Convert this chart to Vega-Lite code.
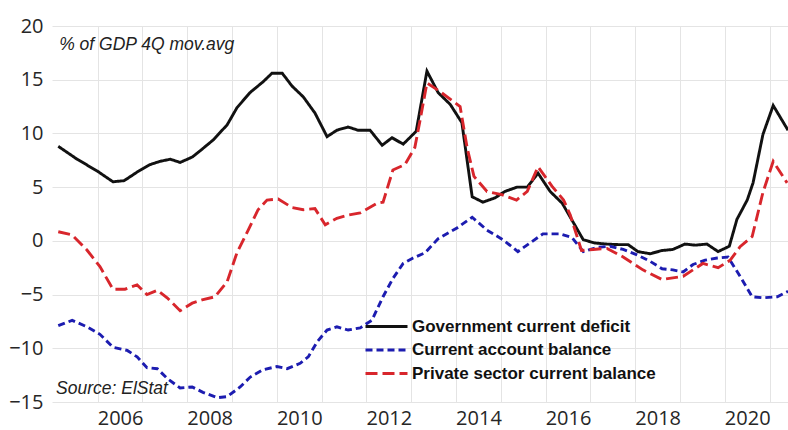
{
  "$schema": "https://vega.github.io/schema/vega-lite/v6.json",
  "width": 736,
  "height": 376,
  "autosize": "none",
  "padding": {"left": 52, "top": 26, "right": 0, "bottom": 28},
  "background": "white",
  "config": {"view": {"stroke": null}, "font": "Open Sans"},
  "datasets": {
    "series": [
      {"series": "Government current deficit", "year": 2004.62, "value": 8.8},
      {"series": "Government current deficit", "year": 2005.04, "value": 7.6},
      {"series": "Government current deficit", "year": 2005.49, "value": 6.5},
      {"series": "Government current deficit", "year": 2005.84, "value": 5.5},
      {"series": "Government current deficit", "year": 2006.09, "value": 5.6},
      {"series": "Government current deficit", "year": 2006.38, "value": 6.4},
      {"series": "Government current deficit", "year": 2006.67, "value": 7.1},
      {"series": "Government current deficit", "year": 2006.89, "value": 7.4},
      {"series": "Government current deficit", "year": 2007.12, "value": 7.6},
      {"series": "Government current deficit", "year": 2007.34, "value": 7.3},
      {"series": "Government current deficit", "year": 2007.61, "value": 7.8},
      {"series": "Government current deficit", "year": 2007.85, "value": 8.6},
      {"series": "Government current deficit", "year": 2008.08, "value": 9.4},
      {"series": "Government current deficit", "year": 2008.39, "value": 10.8},
      {"series": "Government current deficit", "year": 2008.61, "value": 12.4},
      {"series": "Government current deficit", "year": 2008.9, "value": 13.8},
      {"series": "Government current deficit", "year": 2009.19, "value": 14.8},
      {"series": "Government current deficit", "year": 2009.39, "value": 15.6},
      {"series": "Government current deficit", "year": 2009.62, "value": 15.6},
      {"series": "Government current deficit", "year": 2009.84, "value": 14.4},
      {"series": "Government current deficit", "year": 2010.09, "value": 13.4},
      {"series": "Government current deficit", "year": 2010.35, "value": 11.9},
      {"series": "Government current deficit", "year": 2010.62, "value": 9.7},
      {"series": "Government current deficit", "year": 2010.84, "value": 10.3},
      {"series": "Government current deficit", "year": 2011.09, "value": 10.6},
      {"series": "Government current deficit", "year": 2011.31, "value": 10.3},
      {"series": "Government current deficit", "year": 2011.58, "value": 10.3},
      {"series": "Government current deficit", "year": 2011.85, "value": 8.9},
      {"series": "Government current deficit", "year": 2012.07, "value": 9.6},
      {"series": "Government current deficit", "year": 2012.32, "value": 9.0},
      {"series": "Government current deficit", "year": 2012.61, "value": 10.2},
      {"series": "Government current deficit", "year": 2012.85, "value": 15.8},
      {"series": "Government current deficit", "year": 2013.1, "value": 13.8},
      {"series": "Government current deficit", "year": 2013.37, "value": 12.7},
      {"series": "Government current deficit", "year": 2013.63, "value": 11.0},
      {"series": "Government current deficit", "year": 2013.86, "value": 4.1},
      {"series": "Government current deficit", "year": 2014.1, "value": 3.6},
      {"series": "Government current deficit", "year": 2014.37, "value": 4.0},
      {"series": "Government current deficit", "year": 2014.59, "value": 4.6},
      {"series": "Government current deficit", "year": 2014.86, "value": 5.0},
      {"series": "Government current deficit", "year": 2015.09, "value": 5.0},
      {"series": "Government current deficit", "year": 2015.33, "value": 6.3},
      {"series": "Government current deficit", "year": 2015.6, "value": 4.6},
      {"series": "Government current deficit", "year": 2015.87, "value": 3.5},
      {"series": "Government current deficit", "year": 2016.05, "value": 2.2},
      {"series": "Government current deficit", "year": 2016.34, "value": 0.1},
      {"series": "Government current deficit", "year": 2016.6, "value": -0.2},
      {"series": "Government current deficit", "year": 2016.87, "value": -0.3},
      {"series": "Government current deficit", "year": 2017.12, "value": -0.35},
      {"series": "Government current deficit", "year": 2017.34, "value": -0.35},
      {"series": "Government current deficit", "year": 2017.56, "value": -1.0},
      {"series": "Government current deficit", "year": 2017.83, "value": -1.2},
      {"series": "Government current deficit", "year": 2018.1, "value": -0.9},
      {"series": "Government current deficit", "year": 2018.34, "value": -0.8},
      {"series": "Government current deficit", "year": 2018.61, "value": -0.3},
      {"series": "Government current deficit", "year": 2018.84, "value": -0.4},
      {"series": "Government current deficit", "year": 2019.1, "value": -0.3},
      {"series": "Government current deficit", "year": 2019.35, "value": -1.0},
      {"series": "Government current deficit", "year": 2019.6, "value": -0.5},
      {"series": "Government current deficit", "year": 2019.77, "value": 2.0},
      {"series": "Government current deficit", "year": 2020.0, "value": 3.8},
      {"series": "Government current deficit", "year": 2020.13, "value": 5.4},
      {"series": "Government current deficit", "year": 2020.35, "value": 9.9},
      {"series": "Government current deficit", "year": 2020.58, "value": 12.6},
      {"series": "Government current deficit", "year": 2020.91, "value": 10.3},

      {"series": "Current account balance", "year": 2004.62, "value": -7.9},
      {"series": "Current account balance", "year": 2004.93, "value": -7.4},
      {"series": "Current account balance", "year": 2005.26, "value": -8.0},
      {"series": "Current account balance", "year": 2005.55, "value": -8.7},
      {"series": "Current account balance", "year": 2005.84, "value": -9.9},
      {"series": "Current account balance", "year": 2006.16, "value": -10.2},
      {"series": "Current account balance", "year": 2006.38, "value": -10.8},
      {"series": "Current account balance", "year": 2006.6, "value": -11.8},
      {"series": "Current account balance", "year": 2006.83, "value": -11.9},
      {"series": "Current account balance", "year": 2007.05, "value": -12.8},
      {"series": "Current account balance", "year": 2007.34, "value": -13.7},
      {"series": "Current account balance", "year": 2007.61, "value": -13.6},
      {"series": "Current account balance", "year": 2007.85, "value": -14.1},
      {"series": "Current account balance", "year": 2008.17, "value": -14.6},
      {"series": "Current account balance", "year": 2008.39, "value": -14.5},
      {"series": "Current account balance", "year": 2008.68, "value": -13.6},
      {"series": "Current account balance", "year": 2008.9, "value": -12.7},
      {"series": "Current account balance", "year": 2009.19, "value": -12.0},
      {"series": "Current account balance", "year": 2009.5, "value": -11.7},
      {"series": "Current account balance", "year": 2009.73, "value": -11.9},
      {"series": "Current account balance", "year": 2010.02, "value": -11.4},
      {"series": "Current account balance", "year": 2010.2, "value": -10.8},
      {"series": "Current account balance", "year": 2010.4, "value": -9.4},
      {"series": "Current account balance", "year": 2010.62, "value": -8.3},
      {"series": "Current account balance", "year": 2010.84, "value": -8.0},
      {"series": "Current account balance", "year": 2011.09, "value": -8.3},
      {"series": "Current account balance", "year": 2011.36, "value": -8.1},
      {"series": "Current account balance", "year": 2011.62, "value": -7.4},
      {"series": "Current account balance", "year": 2011.87, "value": -5.2},
      {"series": "Current account balance", "year": 2012.09, "value": -3.5},
      {"series": "Current account balance", "year": 2012.32, "value": -2.1},
      {"series": "Current account balance", "year": 2012.54, "value": -1.6},
      {"series": "Current account balance", "year": 2012.81, "value": -1.1},
      {"series": "Current account balance", "year": 2013.1, "value": 0.2},
      {"series": "Current account balance", "year": 2013.52, "value": 1.2},
      {"series": "Current account balance", "year": 2013.86, "value": 2.2},
      {"series": "Current account balance", "year": 2014.19, "value": 1.0},
      {"series": "Current account balance", "year": 2014.55, "value": 0.1},
      {"series": "Current account balance", "year": 2014.88, "value": -1.0},
      {"series": "Current account balance", "year": 2015.15, "value": -0.2},
      {"series": "Current account balance", "year": 2015.44, "value": 0.65},
      {"series": "Current account balance", "year": 2015.82, "value": 0.65},
      {"series": "Current account balance", "year": 2016.09, "value": 0.3},
      {"series": "Current account balance", "year": 2016.34, "value": -1.0},
      {"series": "Current account balance", "year": 2016.65, "value": -0.6},
      {"series": "Current account balance", "year": 2016.94, "value": -0.5},
      {"series": "Current account balance", "year": 2017.23, "value": -0.8},
      {"series": "Current account balance", "year": 2017.54, "value": -1.3},
      {"series": "Current account balance", "year": 2017.83, "value": -1.9},
      {"series": "Current account balance", "year": 2018.1, "value": -2.6},
      {"series": "Current account balance", "year": 2018.34, "value": -2.7},
      {"series": "Current account balance", "year": 2018.57, "value": -2.9},
      {"series": "Current account balance", "year": 2018.79, "value": -2.2},
      {"series": "Current account balance", "year": 2019.06, "value": -1.8},
      {"series": "Current account balance", "year": 2019.33, "value": -1.6},
      {"series": "Current account balance", "year": 2019.57, "value": -1.5},
      {"series": "Current account balance", "year": 2019.84, "value": -3.3},
      {"series": "Current account balance", "year": 2020.11, "value": -5.2},
      {"series": "Current account balance", "year": 2020.35, "value": -5.3},
      {"series": "Current account balance", "year": 2020.67, "value": -5.2},
      {"series": "Current account balance", "year": 2020.91, "value": -4.7},

      {"series": "Private sector current balance", "year": 2004.62, "value": 0.85},
      {"series": "Private sector current balance", "year": 2004.93, "value": 0.55},
      {"series": "Private sector current balance", "year": 2005.26, "value": -0.85},
      {"series": "Private sector current balance", "year": 2005.55, "value": -2.4},
      {"series": "Private sector current balance", "year": 2005.84, "value": -4.5},
      {"series": "Private sector current balance", "year": 2006.11, "value": -4.5},
      {"series": "Private sector current balance", "year": 2006.38, "value": -4.1},
      {"series": "Private sector current balance", "year": 2006.6, "value": -5.0},
      {"series": "Private sector current balance", "year": 2006.83, "value": -4.6},
      {"series": "Private sector current balance", "year": 2007.05, "value": -5.3},
      {"series": "Private sector current balance", "year": 2007.34, "value": -6.5},
      {"series": "Private sector current balance", "year": 2007.61, "value": -5.8},
      {"series": "Private sector current balance", "year": 2007.83, "value": -5.5},
      {"series": "Private sector current balance", "year": 2008.12, "value": -5.2},
      {"series": "Private sector current balance", "year": 2008.39, "value": -3.8},
      {"series": "Private sector current balance", "year": 2008.61, "value": -1.1},
      {"series": "Private sector current balance", "year": 2008.86, "value": 1.0},
      {"series": "Private sector current balance", "year": 2009.08, "value": 2.9},
      {"series": "Private sector current balance", "year": 2009.28, "value": 3.8},
      {"series": "Private sector current balance", "year": 2009.53, "value": 3.9},
      {"series": "Private sector current balance", "year": 2009.84, "value": 3.1},
      {"series": "Private sector current balance", "year": 2010.09, "value": 2.9},
      {"series": "Private sector current balance", "year": 2010.35, "value": 3.0},
      {"series": "Private sector current balance", "year": 2010.58, "value": 1.5},
      {"series": "Private sector current balance", "year": 2010.84, "value": 2.1},
      {"series": "Private sector current balance", "year": 2011.09, "value": 2.4},
      {"series": "Private sector current balance", "year": 2011.36, "value": 2.6},
      {"series": "Private sector current balance", "year": 2011.74, "value": 3.5},
      {"series": "Private sector current balance", "year": 2011.87, "value": 3.6},
      {"series": "Private sector current balance", "year": 2012.09, "value": 6.6},
      {"series": "Private sector current balance", "year": 2012.36, "value": 7.1},
      {"series": "Private sector current balance", "year": 2012.58, "value": 8.7},
      {"series": "Private sector current balance", "year": 2012.7, "value": 11.3},
      {"series": "Private sector current balance", "year": 2012.85, "value": 14.7},
      {"series": "Private sector current balance", "year": 2013.14, "value": 13.9},
      {"series": "Private sector current balance", "year": 2013.59, "value": 12.5},
      {"series": "Private sector current balance", "year": 2013.75, "value": 8.6},
      {"series": "Private sector current balance", "year": 2013.9, "value": 6.0},
      {"series": "Private sector current balance", "year": 2014.19, "value": 4.6},
      {"series": "Private sector current balance", "year": 2014.52, "value": 4.3},
      {"series": "Private sector current balance", "year": 2014.85, "value": 3.8},
      {"series": "Private sector current balance", "year": 2015.09, "value": 4.6},
      {"series": "Private sector current balance", "year": 2015.33, "value": 6.9},
      {"series": "Private sector current balance", "year": 2015.64, "value": 5.1},
      {"series": "Private sector current balance", "year": 2015.9, "value": 3.8},
      {"series": "Private sector current balance", "year": 2016.05, "value": 2.4},
      {"series": "Private sector current balance", "year": 2016.3, "value": -0.9},
      {"series": "Private sector current balance", "year": 2016.56, "value": -0.8},
      {"series": "Private sector current balance", "year": 2016.87, "value": -0.7},
      {"series": "Private sector current balance", "year": 2017.23, "value": -1.5},
      {"series": "Private sector current balance", "year": 2017.67, "value": -2.7},
      {"series": "Private sector current balance", "year": 2018.1, "value": -3.6},
      {"series": "Private sector current balance", "year": 2018.57, "value": -3.3},
      {"series": "Private sector current balance", "year": 2019.01, "value": -2.1},
      {"series": "Private sector current balance", "year": 2019.35, "value": -2.5},
      {"series": "Private sector current balance", "year": 2019.62, "value": -1.8},
      {"series": "Private sector current balance", "year": 2019.84, "value": -0.55},
      {"series": "Private sector current balance", "year": 2020.11, "value": 0.4},
      {"series": "Private sector current balance", "year": 2020.35, "value": 4.5},
      {"series": "Private sector current balance", "year": 2020.58, "value": 7.4},
      {"series": "Private sector current balance", "year": 2020.89, "value": 5.4}
    ]
  },
  "layer": [
    {
      "mark": {"type": "rule", "color": "#b4b4b4", "strokeWidth": 1.3},
      "encoding": {"y": {"datum": 0, "type": "quantitative"}}
    },
    {
      "data": {"name": "series"},
      "mark": {"type": "line", "strokeWidth": 2.9, "clip": true},
      "encoding": {
        "x": {
          "field": "year", "type": "quantitative",
          "scale": {"domain": [2004.48, 2020.91], "nice": false, "zero": false},
          "axis": {
            "values": [2005.5, 2006.5, 2007.5, 2008.5, 2009.5, 2010.5, 2011.5, 2012.5, 2013.5, 2014.5, 2015.5, 2016.5, 2017.5, 2018.5, 2019.5, 2020.5],
            "labelExpr": "(datum.value + 0.5) % 2 == 0 ? '' + (datum.value + 0.5) : ''",
            "labelOffset": 22.4,
            "grid": true, "gridColor": "#e4e4e4", "gridWidth": 1,
            "ticks": false, "domain": false, "title": null,
            "labelFontSize": 20, "labelColor": "#262626", "labelPadding": 6,
            "labelOverlap": false, "labelBound": false, "labelFlush": false
          }
        },
        "y": {
          "field": "value", "type": "quantitative",
          "scale": {"domain": [-15, 20], "nice": false, "zero": false},
          "axis": {
            "values": [-15, -10, -5, 0, 5, 10, 15, 20],
            "grid": true, "gridColor": "#e4e4e4", "gridWidth": 1,
            "ticks": false, "domain": false, "title": null,
            "labelFontSize": 20, "labelColor": "#262626", "labelPadding": 9
          }
        },
        "color": {
          "field": "series", "type": "nominal",
          "scale": {
            "domain": ["Government current deficit", "Current account balance", "Private sector current balance"],
            "range": ["#111111", "#1c1cb0", "#d8262c"]
          },
          "legend": {
            "orient": "none", "legendX": 326, "legendY": 292,
            "title": null, "padding": 0,
            "symbolType": "M-3,0H3", "symbolSize": 196, "symbolStrokeWidth": 3,
            "labelFont": "Liberation Sans", "labelFontWeight": "bold", "labelFontSize": 17,
            "labelColor": "#111111", "labelOffset": 17, "rowPadding": 5.5, "labelLimit": 400
          }
        },
        "strokeDash": {
          "field": "series", "type": "nominal",
          "scale": {
            "domain": ["Government current deficit", "Current account balance", "Private sector current balance"],
            "range": [[1, 0], [7, 4], [12, 5]]
          },
          "legend": {
            "orient": "none", "legendX": 326, "legendY": 292,
            "title": null, "padding": 0,
            "symbolType": "M-3,0H3", "symbolSize": 196, "symbolStrokeWidth": 3,
            "labelFont": "Liberation Sans", "labelFontWeight": "bold", "labelFontSize": 17,
            "labelColor": "#111111", "labelOffset": 17, "rowPadding": 5.5, "labelLimit": 400
          }
        }
      }
    },
    {
      "data": {"values": [{"label": "% of GDP 4Q mov.avg"}]},
      "mark": {"type": "text", "align": "left", "baseline": "middle", "font": "Liberation Sans", "fontStyle": "italic", "fontSize": 17.5, "color": "#222222"},
      "encoding": {
        "x": {"datum": 2004.64, "type": "quantitative"},
        "y": {"datum": 18.27, "type": "quantitative"},
        "text": {"field": "label"}
      }
    },
    {
      "data": {"values": [{"label": "Source: ElStat"}]},
      "mark": {"type": "text", "align": "left", "baseline": "middle", "font": "Liberation Sans", "fontStyle": "italic", "fontSize": 17.5, "color": "#222222"},
      "encoding": {
        "x": {"datum": 2004.57, "type": "quantitative"},
        "y": {"datum": -13.75, "type": "quantitative"},
        "text": {"field": "label"}
      }
    }
  ]
}
